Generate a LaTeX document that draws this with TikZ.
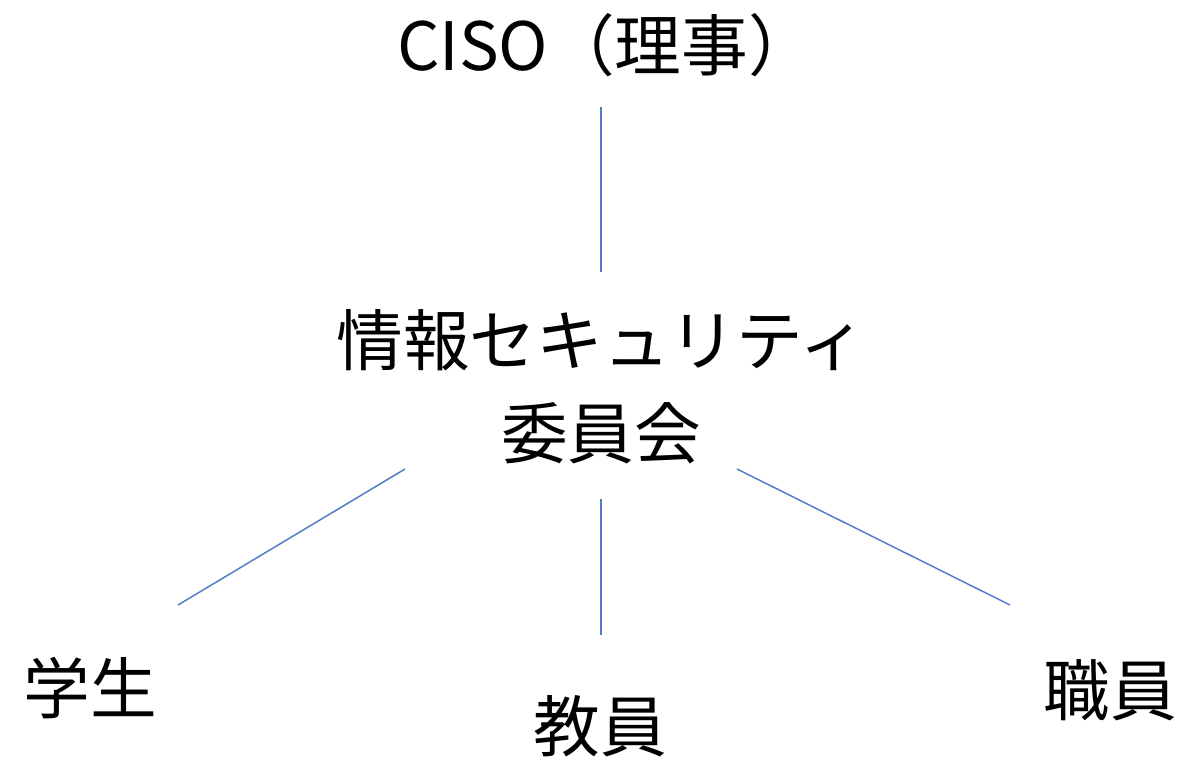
\documentclass[tikz,border=0pt]{standalone}
\usepackage{fontspec}
\setmainfont{Noto Sans CJK JP}
\tikzset{
  lbl/.style={inner sep=0pt, font=\fontsize{50}{70}\selectfont, align=center},
  conn/.style={draw={rgb,255:red,79;green,125;blue,196}, line width=1.1pt},
}
\begin{document}
\begin{tikzpicture}[x=0.75pt,y=-0.75pt]
\useasboundingbox (0,0) rectangle (1186,761);
\node[lbl] (ciso) at (606,45) {CISO（理事）};
\node[lbl] (com) at (601,387) {情報セキュリティ\\委員会};
\node[lbl] (st) at (90,688) {学生};
\node[lbl] (te) at (600,726) {教員};
\node[lbl] (stf) at (1110,690) {職員};
\coordinate (a1) at (601,107);
\coordinate (a2) at (601,272);
\coordinate (b1) at (405,469);
\coordinate (b2) at (178,605);
\coordinate (c1) at (601,499);
\coordinate (c2) at (601,635);
\coordinate (d1) at (737,469);
\coordinate (d2) at (1010,605);
\draw[conn] (a1) -- (a2);
\draw[conn] (b1) -- (b2);
\draw[conn] (c1) -- (c2);
\draw[conn] (d1) -- (d2);
\end{tikzpicture}
\end{document}
